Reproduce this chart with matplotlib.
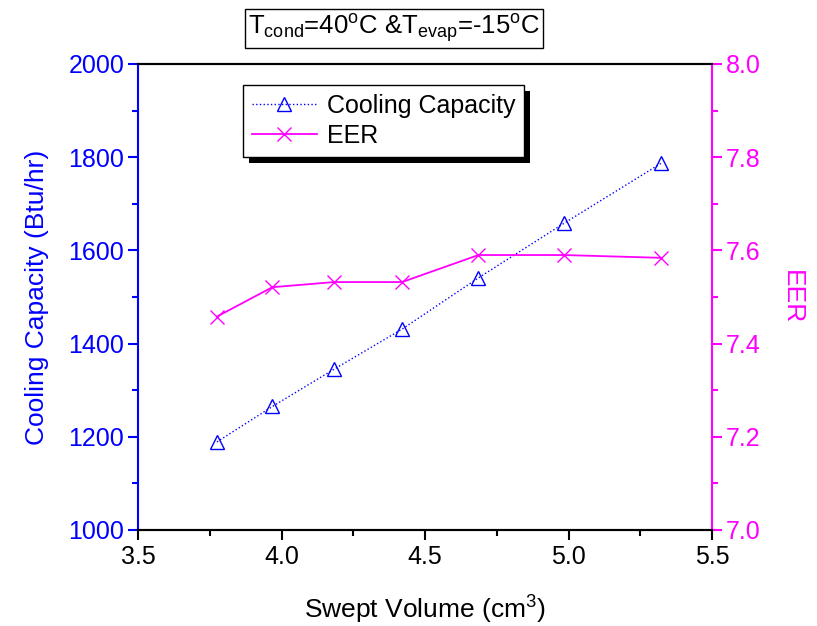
import matplotlib
matplotlib.use('Agg')
import matplotlib.pyplot as plt
from matplotlib.patches import Rectangle
from matplotlib.ticker import MultipleLocator, FormatStrFormatter

plt.rcParams['font.family'] = ['Liberation Sans', 'DejaVu Sans']
plt.rcParams['mathtext.fontset'] = 'custom'
plt.rcParams['mathtext.rm'] = 'Liberation Sans'
plt.rcParams['mathtext.it'] = 'Liberation Sans'

# data
swept_volume = [3.775, 3.968, 4.183, 4.42, 4.686, 4.984, 5.323]
cooling_capacity = [1189, 1265, 1345, 1431, 1541, 1658, 1787]
eer = [7.458, 7.521, 7.532, 7.532, 7.590, 7.590, 7.584]

blue = '#0000ff'
magenta = '#ff00ff'
fs = 18
lfs = 19

fig = plt.figure(figsize=(8.17, 6.26), dpi=100)
ax = fig.add_axes([0.169, 0.1534, 0.7025, 0.7444])
ax2 = ax.twinx()

l1, = ax.plot(swept_volume, cooling_capacity, color=blue, ls=':', lw=1.0,
              marker='^', ms=10, mfc='none', mec=blue, mew=1.0,
              label='Cooling Capacity')
l2, = ax2.plot(swept_volume, eer, color=magenta, ls='-', lw=1.3,
               marker='x', ms=10, mec=magenta, mew=1.0, label='EER')

ax.set_xlim(3.5, 5.5)
ax.set_ylim(1000, 2000)
ax2.set_ylim(7.0, 8.0)

ax.xaxis.set_major_locator(MultipleLocator(0.5))
ax.xaxis.set_minor_locator(MultipleLocator(0.25))
ax.yaxis.set_major_locator(MultipleLocator(200))
ax.yaxis.set_minor_locator(MultipleLocator(100))
ax2.yaxis.set_major_locator(MultipleLocator(0.2))
ax2.yaxis.set_minor_locator(MultipleLocator(0.1))
ax.xaxis.set_major_formatter(FormatStrFormatter('%.1f'))
ax2.yaxis.set_major_formatter(FormatStrFormatter('%.1f'))

for a in (ax, ax2):
    for s in a.spines.values():
        s.set_linewidth(1.5)
ax.spines['left'].set_color(blue)
ax2.spines['left'].set_visible(False)
ax.spines['right'].set_visible(False)
ax2.spines['right'].set_color(magenta)

ax.tick_params(axis='x', which='major', direction='out', length=7, width=1.5,
               labelsize=fs, colors='black', top=False, pad=4)
ax.tick_params(axis='x', which='minor', direction='out', length=4, width=1.5, top=False)
ax.tick_params(axis='y', which='major', direction='out', length=7, width=1.5,
               labelsize=fs, colors=blue, pad=3)
ax.tick_params(axis='y', which='minor', direction='out', length=4, width=1.5, colors=blue)
ax2.tick_params(axis='y', which='major', direction='out', length=7, width=1.5,
                labelsize=fs, colors=magenta, pad=3)
ax2.tick_params(axis='y', which='minor', direction='out', length=4, width=1.5, colors=magenta)

ax.set_xlabel('Swept Volume (cm$^3$)', fontsize=lfs, labelpad=18)
ax.set_ylabel('Cooling Capacity (Btu/hr)', fontsize=lfs, color=blue, labelpad=14)
ax2.set_ylabel('EER', fontsize=lfs, color=magenta, rotation=270, labelpad=31)

fig.text(0.482, 0.9545,
         r'T$_{\mathrm{cond}}$=40$^{\mathrm{o}}$C &T$_{\mathrm{evap}}$=-15$^{\mathrm{o}}$C',
         fontsize=18.5, ha='center', va='center',
         bbox=dict(boxstyle='square,pad=0.12', fc='white', ec='black', lw=1.0))

leg = ax2.legend(handles=[l1, l2], loc='upper left', bbox_to_anchor=(0.183, 0.955),
                 fontsize=fs, frameon=True, fancybox=False, borderaxespad=0,
                 handlelength=2.6, handletextpad=0.4, borderpad=0.35, labelspacing=0.25,
                 framealpha=1.0, facecolor='white')
leg.get_frame().set_edgecolor('black')
leg.get_frame().set_linewidth(1.0)
leg.set_zorder(10)

# drop shadow behind the legend box
fig.canvas.draw()
bb = leg.get_window_extent()
shadow = Rectangle((bb.x0 + 6, bb.y0 - 6), bb.width, bb.height, transform=None,
                   facecolor='black', edgecolor='none', zorder=9)
ax2.add_artist(shadow)

fig.savefig('out.png', dpi=100)
